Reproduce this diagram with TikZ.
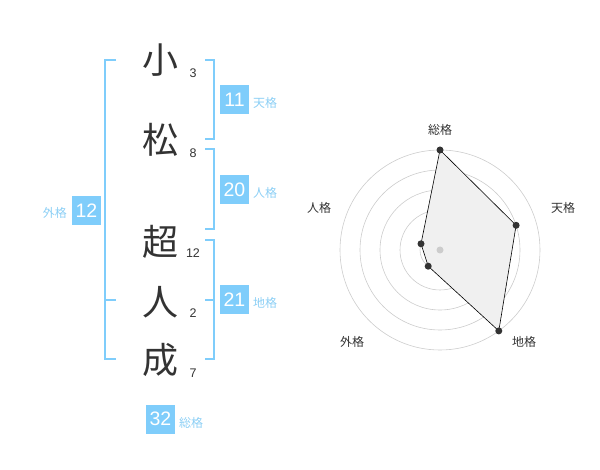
\documentclass[tikz,border=0pt]{standalone}
\usepackage{fontspec}
\setmainfont{Noto Sans CJK JP}
\newfontfamily\numfont{Liberation Sans}
\definecolor{kblue}{HTML}{7FCDFB}
\definecolor{ktext}{HTML}{8CCFF5}
\definecolor{kdark}{HTML}{333333}
\definecolor{kgrid}{HTML}{CCCCCC}
\definecolor{kfill}{HTML}{F0F0F0}
\tikzset{
  kanji/.style={font=\fontsize{36}{36}\selectfont, text=kdark, inner sep=0pt},
  strokes/.style={font=\numfont\fontsize{12.5}{12.5}\selectfont, text=kdark, inner sep=0pt},
  numbox/.style={fill=kblue, text=white, minimum width=29pt, minimum height=29pt, inner sep=0pt, font=\numfont\fontsize{19.5}{19.5}\selectfont},
  kaku/.style={text=ktext, font=\fontsize{12}{12}\selectfont, inner sep=0pt},
  bracket/.style={draw=kblue, line width=1.6pt},
  rlabel/.style={text=kdark, font=\fontsize{12}{12}\selectfont, inner sep=0pt},
  rdot/.style={circle, fill=kdark, inner sep=0pt, minimum size=7pt},
  grid/.style={draw=kgrid, line width=0.6pt}
}
\begin{document}
\begin{tikzpicture}[x=1pt,y=-1pt]
\useasboundingbox (0,0) rectangle (600,470);
% characters
\node[kanji] (c1) at (160,60) {小};
\node[kanji] (c2) at (160,140) {松};
\node[kanji] (c3) at (160,242) {超};
\node[kanji] (c4) at (160,302) {人};
\node[kanji] (c5) at (160,360) {成};
\node[strokes] (s1) at (193,73) {3};
\node[strokes] (s2) at (193,153) {8};
\node[strokes] (s3) at (193,253) {12};
\node[strokes] (s4) at (193,313) {2};
\node[strokes] (s5) at (193,373) {7};
% brackets
\draw[bracket] (116,60) -- (105,60) -- (105,359) -- (116,359);
\draw[bracket] (105,300) -- (116,300);
\draw[bracket] (205,60) -- (214,60) -- (214,139) -- (205,139);
\draw[bracket] (205,149) -- (214,149) -- (214,229) -- (205,229);
\draw[bracket] (205,240) -- (214,240) -- (214,359) -- (205,359);
\draw[bracket] (205,300) -- (214,300);
% boxes
\node[numbox] (ten) at (234.5,100) {11};
\node[kaku, anchor=west] (tenl) at (253,103) {天格};
\node[numbox] (jin) at (234.5,190) {20};
\node[kaku, anchor=west] (jinl) at (253,193) {人格};
\node[numbox] (chi) at (234.5,300) {21};
\node[kaku, anchor=west] (chil) at (253,303) {地格};
\node[numbox] (gai) at (86.5,211) {12};
\node[kaku, anchor=east] (gail) at (67,213) {外格};
\node[numbox] (sou) at (160.5,419) {32};
\node[kaku, anchor=west] (soul) at (179,423) {総格};
% radar
\foreach \r in {20,40,60,80,100} \draw[grid] (440,250) circle (\r);
\coordinate (pS) at (440,150);
\coordinate (pT) at (516.1,225.3);
\coordinate (pC) at (498.8,330.9);
\coordinate (pG) at (428.2,266.2);
\coordinate (pJ) at (421.0,243.8);
\filldraw[fill=kfill, draw=black, line width=0.6pt] (pS) -- (pT) -- (pC) -- (pG) -- (pJ) -- cycle;
\node[circle, fill=kgrid, inner sep=0pt, minimum size=7pt] (ctr) at (440,250) {};
\node[rdot] (dS) at (pS) {};
\node[rdot] (dT) at (pT) {};
\node[rdot] (dC) at (pC) {};
\node[rdot] (dG) at (pG) {};
\node[rdot] (dJ) at (pJ) {};
\node[rlabel] (lS) at (440,130) {総格};
\node[rlabel] (lT) at (563,208) {天格};
\node[rlabel] (lC) at (524,342) {地格};
\node[rlabel] (lG) at (352,342) {外格};
\node[rlabel] (lJ) at (319,208) {人格};
\end{tikzpicture}
\end{document}
